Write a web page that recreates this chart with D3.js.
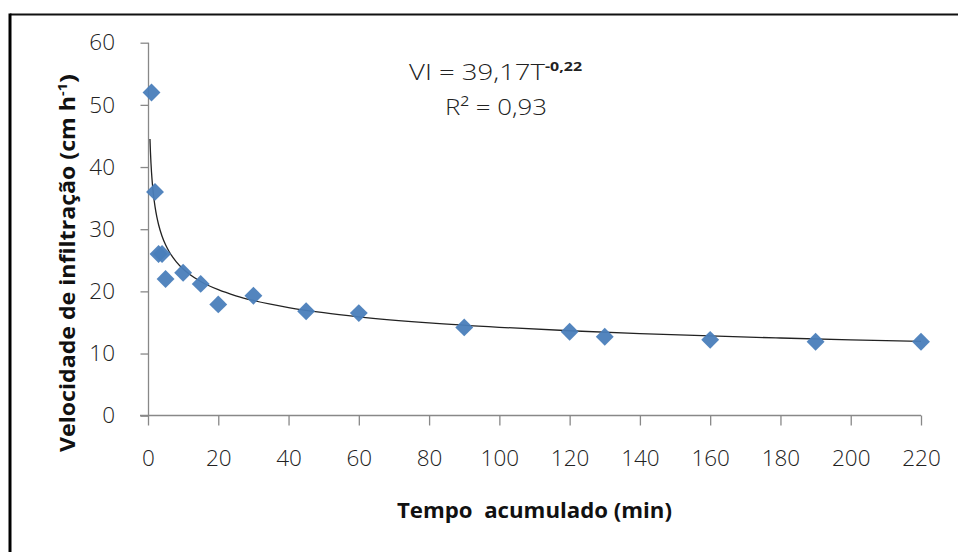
<!DOCTYPE html>
<html><head><meta charset="utf-8">
<script src="https://cdn.jsdelivr.net/npm/d3@7"></script>
<style>body{margin:0;background:#fff}svg{display:block}</style>
</head><body>
<svg id="c" width="958" height="552"></svg>
<script>
const tempo = [1, 2, 3, 4, 5, 10, 15, 20, 30, 45, 60, 90, 120, 130, 160, 190, 220];
const velocidade = [52, 36, 26, 26, 22, 23, 21.2, 17.9, 19.3, 16.8, 16.5, 14.2, 13.5, 12.7, 12.2, 11.9, 11.9];
const xTicks = [0,20,40,60,80,100,120,140,160,180,200,220];
const yTicks = [0,10,20,30,40,50,60];
const coefA = 39.17, coefB = -0.22;
const trendT = [0.56, 0.7, 0.85, 1, 1.25, 1.5, 2, 2.5, 3, 4, 5, 6, 8, 10, 12, 15, 20, 25, 30, 40, 50, 60, 80, 100, 120, 140, 160, 180, 200, 220];

const svg = d3.select("#c");
const font = "'Open Sans', Lato, sans-serif";
// frame
svg.append("line").attr("x1",10).attr("x2",958).attr("y1",14.5).attr("y2",14.5).attr("stroke","#111").attr("stroke-width",2);
svg.append("line").attr("x1",10).attr("x2",10).attr("y1",13.5).attr("y2",552).attr("stroke","#000").attr("stroke-width",3);

const x = d3.scaleLinear().domain([0,220]).range([148,921]);
const y = d3.scaleLinear().domain([0,60]).range([415.7,42.7]);

const gx = svg.append("g").attr("transform","translate(0,415.5)")
  .call(d3.axisBottom(x).tickValues(xTicks).tickSizeOuter(0).tickSize(10).tickPadding(25));
const gy = svg.append("g").attr("transform","translate(148.5,0)")
  .call(d3.axisLeft(y).tickValues(yTicks).tickSizeOuter(0).tickSize(8).tickPadding(25.5));
[gx,gy].forEach(g=>{
  g.selectAll("path,line").attr("stroke","#888").attr("stroke-width",1.3);
  g.selectAll("text").attr("font-family",font).attr("font-size",22.5).attr("fill","#222")
   .attr("font-weight",300);
});
gy.select(".domain").attr("d", `M0,${y(60)}V${y(0)}`);
gx.select(".domain").attr("d", `M140,0H${x(220)}`);

// trend line
const line = d3.line().x(d=>x(d)).y(d=>y(coefA*Math.pow(d,coefB))).curve(d3.curveMonotoneX);
svg.append("path").datum(trendT).attr("d",line).attr("fill","none").attr("stroke","#222").attr("stroke-width",1.3);

// points
const sym = d3.symbol().type(d3.symbolSquare).size(160);
svg.append("g").selectAll("path").data(tempo.map((t,i)=>[t,velocidade[i]])).join("path")
  .attr("d",sym)
  .attr("transform",d=>`translate(${x(d[0])},${y(d[1])}) rotate(45)`)
  .attr("fill","#4a7ebb").attr("opacity",0.95);

function fit(sel, w){ sel.attr("textLength", w).attr("lengthAdjust","spacingAndGlyphs"); }

// equation
const eq = svg.append("text").attr("x",409).attr("y",80)
  .attr("font-family",font).attr("font-size",22.5).attr("font-weight",300).attr("fill","#222");
const eq1 = eq.append("tspan").text("VI = 39,17T"); fit(eq1, 136);
const eq2 = eq.append("tspan").attr("dy",-9).attr("font-size",13).attr("font-weight","bold").text("-0,22"); fit(eq2, 37);
const r2 = svg.append("text").attr("x",445).attr("y",115)
  .attr("font-family",font).attr("font-size",22.5).attr("font-weight",300).attr("fill","#222").text("R² = 0,93");
fit(r2, 102);

// axis titles
const xt = svg.append("text").attr("x",397).attr("y",518)
  .attr("font-family",font).attr("font-size",20.5).attr("font-weight","bold").attr("fill","#111")
  .attr("xml:space","preserve").text("Tempo  acumulado (min)");
fit(xt, 275);
const yl = svg.append("text").attr("transform","translate(75,452) rotate(-90)")
  .attr("font-family",font).attr("font-size",20.5).attr("font-weight","bold").attr("fill","#111");
const y1 = yl.append("tspan").text("Velocidade de infiltração (cm h"); fit(y1, 356);
const y2 = yl.append("tspan").attr("dy",-8).attr("font-size",12).text("-1"); fit(y2, 13);
const y3 = yl.append("tspan").attr("dy",8).text(")"); fit(y3, 9);
</script>
</body></html>
